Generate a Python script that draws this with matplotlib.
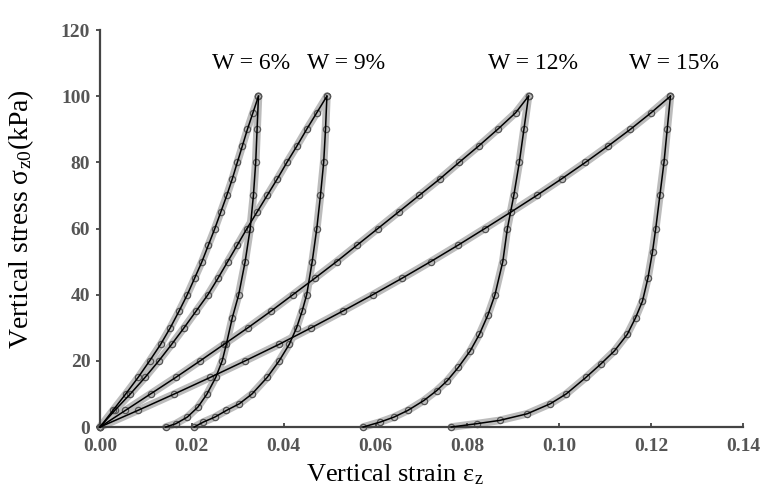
import matplotlib
matplotlib.use("Agg")
import matplotlib.pyplot as plt

plt.rcParams['font.family'] = ['Liberation Serif', 'DejaVu Serif']
plt.rcParams['mathtext.fontset'] = 'custom'
plt.rcParams['mathtext.rm'] = 'Liberation Serif'
plt.rcParams['mathtext.it'] = 'Liberation Serif:italic'

# stress levels (kPa) shared by the loading branches
load_stress = [0, 5, 10, 15, 20, 25, 30, 35, 40, 45, 50,
               55, 60, 65, 70, 75, 80, 85, 90, 95, 100]

# loading branches, strain
w6_load = [0.0, 0.0028, 0.0056, 0.0083, 0.0108, 0.0132, 0.0153, 0.0172, 0.0190, 0.0206, 0.0222,
           0.0236, 0.0250, 0.0263, 0.0276, 0.0288, 0.0299, 0.0310, 0.0321, 0.0333, 0.0345]
w9_load = [0.0, 0.0032, 0.0066, 0.0098, 0.0128, 0.0156, 0.0183, 0.0209, 0.0235, 0.0257, 0.0278,
           0.0299, 0.0320, 0.0342, 0.0364, 0.0386, 0.0407, 0.0429, 0.0450, 0.0472, 0.0494]
w12_load = [0.0, 0.0055, 0.0110, 0.0165, 0.0218, 0.0270, 0.0322, 0.0372, 0.0420, 0.0468, 0.0515,
            0.0560, 0.0605, 0.0650, 0.0695, 0.0740, 0.0782, 0.0825, 0.0866, 0.0905, 0.0933]
w15_load = [0.0, 0.0082, 0.0162, 0.0240, 0.0316, 0.0390, 0.0460, 0.0528, 0.0594, 0.0658, 0.0720,
            0.0780, 0.0838, 0.0895, 0.0951, 0.1005, 0.1057, 0.1107, 0.1155, 0.1200, 0.1242]

# unloading branches
w6_unl_stress = [100, 90, 80, 70, 60, 50, 40, 33, 25, 20, 15, 10, 6, 3, 1, 0]
w6_unl = [0.0345, 0.0342, 0.0339, 0.0334, 0.0327, 0.0316, 0.0302, 0.0288,
          0.0275, 0.0266, 0.0252, 0.0233, 0.0213, 0.0190, 0.0165, 0.0143]
w9_unl_stress = [100, 90, 80, 70, 60, 50, 40, 35, 30, 25, 20, 15, 10, 7, 5, 3, 1.5, 0]
w9_unl = [0.0494, 0.0491, 0.0487, 0.0480, 0.0472, 0.0462, 0.0450, 0.0440, 0.0428,
          0.0412, 0.0390, 0.0364, 0.0331, 0.0303, 0.0275, 0.0250, 0.0225, 0.0205]
w12_unl_stress = [100, 90, 80, 70, 60, 50, 40, 34, 28, 23, 18, 14, 11, 8, 5, 3, 1.5, 0]
w12_unl = [0.0933, 0.0923, 0.0913, 0.0901, 0.0887, 0.0877, 0.0860, 0.0845, 0.0826,
           0.0806, 0.0780, 0.0756, 0.0733, 0.0705, 0.0670, 0.0640, 0.0610, 0.0573]
w15_unl_stress = [100, 90, 80, 70, 60, 53, 45, 38, 33, 28, 23, 19, 15, 10, 7, 4, 2, 1, 0]
w15_unl = [0.1242, 0.1235, 0.1228, 0.1219, 0.1210, 0.1203, 0.1193, 0.1181, 0.1166, 0.1148,
           0.1120, 0.1090, 0.1058, 0.1015, 0.0980, 0.0930, 0.0870, 0.0820, 0.0765]

labels = ['W = 6%', 'W = 9%', 'W = 12%', 'W = 15%']
label_x = [0.0329, 0.0536, 0.0943, 0.1250]
label_y = 110

branches = [(w6_load, load_stress), (w6_unl, w6_unl_stress),
            (w9_load, load_stress), (w9_unl, w9_unl_stress),
            (w12_load, load_stress), (w12_unl, w12_unl_stress),
            (w15_load, load_stress), (w15_unl, w15_unl_stress)]

fig = plt.figure(figsize=(7.67, 4.91), dpi=100)
ax = fig.add_axes([0.1304, 0.1303, 0.8383, 0.8086])

for x, y in branches:
    # grey halo standing in for the dense test points
    ax.plot(x, y, color='#bcbcbc', lw=5.5, solid_capstyle='round', zorder=1, clip_on=False)
    ax.plot(x, y, ls='none', marker='o', ms=4.5, mfc='none', mec='#555555',
            mew=0.9, zorder=2, clip_on=False)
    ax.plot(x, y, color='black', lw=1.1, zorder=3, clip_on=False)

for t, xx in zip(labels, label_x):
    ax.text(xx, label_y, t, ha='center', va='center', fontsize=17)

ax.set_xlim(0, 0.14)
ax.set_ylim(0, 120)
ax.set_xticks([0.0, 0.02, 0.04, 0.06, 0.08, 0.10, 0.12, 0.14])
ax.set_xticklabels(['0.00', '0.02', '0.04', '0.06', '0.08', '0.10', '0.12', '0.14'])
ax.set_yticks([0, 20, 40, 60, 80, 100, 120])

for s in ['top', 'right']:
    ax.spines[s].set_visible(False)
for s in ['left', 'bottom']:
    ax.spines[s].set_color('#444444')
    ax.spines[s].set_linewidth(1.6)

ax.tick_params(axis='y', direction='out', length=3, width=1.3, color='#444444',
               labelcolor='#555555', labelsize=14, pad=4)
ax.tick_params(axis='x', direction='in', length=3, width=1.3, color='#444444',
               labelcolor='#555555', labelsize=14, pad=8)
for lab in ax.get_xticklabels() + ax.get_yticklabels():
    lab.set_fontweight('bold')

ax.set_xlabel(r'Vertical strain $\mathrm{\varepsilon}_\mathrm{z}$', fontsize=19)
ax.set_ylabel(r'Vertical stress $\mathrm{\sigma}_\mathrm{z0}$(kPa)', fontsize=20)
ax.xaxis.set_label_coords(0.458, -0.09)
ax.yaxis.set_label_coords(-0.1, 0.524)

fig.savefig('out.png', dpi=100)
